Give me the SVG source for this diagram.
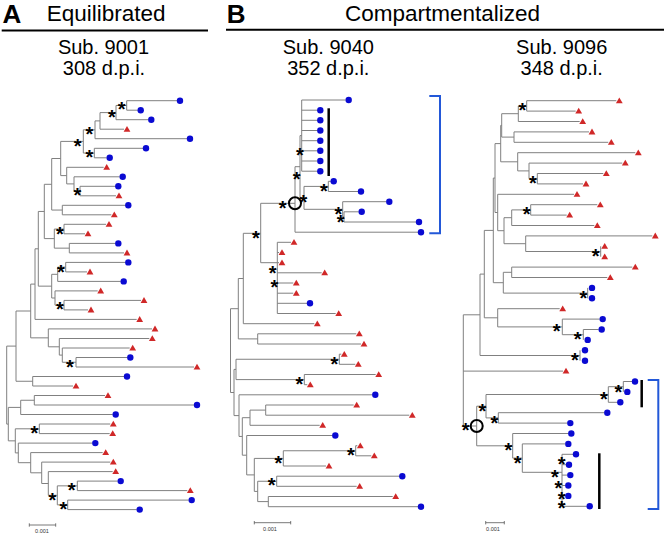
<svg xmlns="http://www.w3.org/2000/svg" width="664" height="534" viewBox="0 0 664 534">
<style>
.br{stroke:#808080;stroke-width:1;fill:none}
.hd{font-family:"Liberation Sans",Arial,sans-serif;fill:#000}
.big{font-size:26px;font-weight:bold}
.ttl{font-size:22.5px}
.sub{font-size:20px;text-anchor:middle}
.s{font-family:"Liberation Sans",Arial,sans-serif;font-size:20px;font-weight:bold;text-anchor:middle;fill:#000}
.sc{font-family:"Liberation Sans",Arial,sans-serif;font-size:5.5px;text-anchor:middle;fill:#333}
.rule{stroke:#000;stroke-width:2}
.bar{stroke:#000;stroke-width:2.5}
.bk{stroke:#2358d8;stroke-width:2;fill:none}
.ring{stroke:#000;stroke-width:2;fill:none}
.scb{stroke:#555;stroke-width:0.8;fill:none}
</style>
<defs>
<circle id="c" r="3.2" fill="#0a0ad2"/>
<path id="t" d="M0-3.3L3.4 2.5H-3.4Z" fill="#d02828"/>
</defs>
<rect width="664" height="534" fill="#fff"/>
<g id="headers">
<text class="hd big" x="2.5" y="22.7">A</text>
<text class="hd ttl" x="46.7" y="20.5">Equilibrated</text>
<line class="rule" x1="1.7" y1="30.5" x2="208" y2="30.5"/>
<text class="hd big" x="226.7" y="22.7">B</text>
<text class="hd ttl" x="345" y="20.5">Compartmentalized</text>
<line class="rule" x1="226" y1="29.7" x2="664" y2="29.7"/>
<text class="hd sub" x="103.5" y="54">Sub. 9001</text>
<text class="hd sub" x="104" y="75">308 d.p.i.</text>
<text class="hd sub" x="328.3" y="54">Sub. 9040</text>
<text class="hd sub" x="328.3" y="75">352 d.p.i.</text>
<text class="hd sub" x="561.7" y="54">Sub. 9096</text>
<text class="hd sub" x="561.7" y="75">348 d.p.i.</text>
</g>
<g id="tree9001">
<path class="br" d="M126.7 100.7V110.2M116 105.45H126.7M116 105.45V119.7M100 112.6H116M100 112.6V129.2M95 120.9H100M95 120.9V138.7M83.3 129.8H95M94.3 148.3V157.8M83.3 153.05H94.3M83.3 129.8V153.05M60.7 141.4H83.3M80 186.3V195.8M74 191.05H80M74 176.8V191.05M66.7 183.9H74M66.7 167.3V183.9M60.7 175.6H66.7M60.7 141.4V175.6M51.7 158.5H60.7M62.3 205.3V214.8M51.7 210.05H62.3M51.7 158.5V210.05M44.3 184.3H51.7M64 224.3V233.8M54.3 229.05H64M69.3 243.4V252.9M54.3 248.15H69.3M54.3 229.05V248.15M44.3 238.6H54.3M44.3 184.3V238.6M38.3 211.45H44.3M65.7 262.4V271.9M57.7 267.15H65.7M57.7 267.15V281.4M51.7 274.3H57.7M64 300.4V309.9M55 305.15H64M55 290.9V305.15M51.7 298H55M51.7 274.3V298M38.3 286.15H51.7M38.3 211.45V286.15M35 248.8H38.3M35 248.8V319.4M30.7 284.1H35M76 357.5V367M62.3 362.25H76M62.3 348V362.25M59.3 355.1H62.3M59.3 338.5V355.1M48.3 346.8H59.3M48.3 328.9V346.8M30.7 337.85H48.3M30.7 284.1V337.85M16 311H30.7M32.7 376.5V386M16 381.25H32.7M16 311V381.25M6.7 346.1H16M34.3 395.5V405M20.7 400.25H34.3M20.7 400.25V414.5M8.3 407.4H20.7M39.3 424V433.6M15.3 428.8H39.3M77.3 481.1V490.6M57.3 485.85H77.3M67.7 500.1V509.6M57.3 504.85H67.7M57.3 485.85V504.85M48.3 495.35H57.3M48.3 471.6V495.35M41.7 483.5H48.3M41.7 462.1V483.5M30.7 472.8H41.7M30.7 452.6V472.8M18.3 462.7H30.7M18.3 443.1V462.7M15.3 452.9H18.3M15.3 428.8V452.9M8.3 440.85H15.3M8.3 407.4V440.85M6.7 424.1H8.3M6.7 346.1V424.1
M126.7 100.7H177M126.7 110.2H137.7M116 119.7H148.3M100 129.2H124M95 138.7H187M94.3 148.3H143M94.3 157.8H106.7M66.7 167.3H103.7M74 176.8H119.7M80 186.3H115.3M80 195.8H116M62.3 205.3H125.3M62.3 214.8H111.3M64 224.3H106M64 233.8H85M69.3 243.4H115.3M69.3 252.9H124M65.7 262.4H125.3M65.7 271.9H87M57.7 281.4H120.7M55 290.9H97.7M64 300.4H141M64 309.9H88M35 319.4H136.7M48.3 328.9H152M59.3 338.5H149.3M62.3 348H129.7M76 357.5H127.3M76 367H194M32.7 376.5H124M32.7 386H73M34.3 395.5H105M34.3 405H194M20.7 414.5H112.7M39.3 424H110.3M39.3 433.6H109.7M18.3 443.1H92.3M30.7 452.6H102.7M41.7 462.1H110.3M48.3 471.6H112.7M77.3 481.1H117.7M77.3 490.6H187.3M67.7 500.1H188.7M67.7 509.6H136.7"/>
<use href="#c" x="180" y="100.7"/><use href="#c" x="140.7" y="110.2"/><use href="#c" x="151.3" y="119.7"/><use href="#t" x="127" y="129.2"/><use href="#c" x="190" y="138.7"/><use href="#c" x="146" y="148.3"/><use href="#c" x="109.7" y="157.8"/><use href="#t" x="106.7" y="167.3"/><use href="#c" x="122.7" y="176.8"/><use href="#c" x="118.3" y="186.3"/><use href="#t" x="119" y="195.8"/><use href="#c" x="128.3" y="205.3"/><use href="#t" x="114.3" y="214.8"/><use href="#t" x="109" y="224.3"/><use href="#t" x="88" y="233.8"/><use href="#c" x="118.3" y="243.4"/><use href="#t" x="127" y="252.9"/><use href="#c" x="128.3" y="262.4"/><use href="#t" x="90" y="271.9"/><use href="#c" x="123.7" y="281.4"/><use href="#t" x="100.7" y="290.9"/><use href="#t" x="144" y="300.4"/><use href="#t" x="91" y="309.9"/><use href="#t" x="139.7" y="319.4"/><use href="#t" x="155" y="328.9"/><use href="#t" x="152.3" y="338.5"/><use href="#t" x="132.7" y="348"/><use href="#c" x="130.3" y="357.5"/><use href="#t" x="197" y="367"/><use href="#c" x="127" y="376.5"/><use href="#t" x="76" y="386"/><use href="#t" x="108" y="395.5"/><use href="#c" x="197" y="405"/><use href="#c" x="115.7" y="414.5"/><use href="#t" x="113.3" y="424"/><use href="#t" x="112.7" y="433.6"/><use href="#c" x="95.3" y="443.1"/><use href="#t" x="105.7" y="452.6"/><use href="#t" x="113.3" y="462.1"/><use href="#t" x="115.7" y="471.6"/><use href="#c" x="120.7" y="481.1"/><use href="#t" x="190.3" y="490.6"/><use href="#c" x="191.7" y="500.1"/><use href="#c" x="139.7" y="509.6"/>
<g transform="translate(0,-1.1)">
<text class="s" x="121.7" y="117.6">*</text><text class="s" x="112" y="125.3">*</text><text class="s" x="89.3" y="142.6">*</text><text class="s" x="77.7" y="154.3">*</text><text class="s" x="89.3" y="165.3">*</text><text class="s" x="77.3" y="203.3">*</text><text class="s" x="60" y="241.9">*</text><text class="s" x="61" y="279.9">*</text><text class="s" x="60" y="317.6">*</text><text class="s" x="70" y="374.9">*</text><text class="s" x="34.3" y="440.9">*</text><text class="s" x="71.7" y="498.6">*</text><text class="s" x="52.3" y="508.6">*</text><text class="s" x="63.3" y="516.9">*</text>
</g>
<path class="scb" d="M29.3 525H55.7M29.3 523.3V526.7M55.7 523.3V526.7"/>
<text class="sc" x="42" y="532.5">0.001</text>
</g>
<g id="tree9040">
<path class="br" d="M301.7 100V171.2M300 135.6H301.7M328.3 181.3V191.5M304 186.4H328.3M344 211.8V222M342.7 216.9H344M342.7 201.7V216.9M304 209.3H342.7M304 186.4V209.3M300 197.85H304M300 135.6V197.85M295 166.7H300M295 166.7V232.2M260.7 203.3H295M260.7 203.3V262.7M243.3 233.3H260.7M277.3 242.3V313.5M260.7 262.7H277.3M243.3 233.3V323.7M238.3 278.5H243.3M257.7 333.8V344M238.3 338.9H257.7M238.3 278.5V338.9M230.5 308.7H238.3M339.3 354.2V364.3M236 359.25H339.3M304.3 374.5V384.7M236 379.6H304.3M236 359.25V379.6M234 369.4H236M265.7 405V415.2M250 410.1H265.7M250 410.1V425.3M242.3 417.7H250M355.7 445.7V455.8M283.3 450.75H355.7M283.3 450.75V466M254.3 458.4H283.3M276.7 476.2V486.3M257.7 481.25H276.7M268.3 496.5V506.7M257.7 501.6H268.3M257.7 481.25V501.6M254.3 491.4H257.7M254.3 458.4V491.4M246.7 474.9H254.3M246.7 435.5V474.9M242.3 455.2H246.7M242.3 417.7V455.2M239 436.45H242.3M239 394.8V436.45M234 415.6H239M234 369.4V415.6M230.5 392.5H234M230.5 308.7V392.5
M301.7 100H345.7M301.7 110.2H317.3M301.7 120.3H317.3M301.7 130.5H317.3M301.7 140.7H317.3M301.7 150.8H317.3M301.7 161H317.3M301.7 171.2H317.3M328.3 181.3H330.7M328.3 191.5H358M342.7 201.7H386.3M344 211.8H358.7M344 222H416M295 232.2H418M277.3 242.3H291M277.3 252.5H279M277.3 262.7H279M277.3 272.8H321.7M277.3 283H293.3M277.3 293.2H293.3M277.3 303.3H307M277.3 313.5H335.7M243.3 323.7H314.3M257.7 333.8H356.3M257.7 344H361M339.3 354.2H341.3M339.3 364.3H355.3M304.3 374.5H375.7M304.3 384.7H307.3M239 394.8H372.3M265.7 405H353.7M265.7 415.2H409.3M250 425.3H319.7M246.7 435.5H332.3M355.7 445.7H357.3M355.7 455.8H371.3M283.3 466H326M276.7 476.2H399.3M276.7 486.3H356.7M268.3 496.5H392.7M268.3 506.7H418"/>
<use href="#c" x="348.7" y="100"/><use href="#c" x="320.3" y="110.2"/><use href="#c" x="320.3" y="120.3"/><use href="#c" x="320.3" y="130.5"/><use href="#c" x="320.3" y="140.7"/><use href="#c" x="320.3" y="150.8"/><use href="#c" x="320.3" y="161"/><use href="#c" x="320.3" y="171.2"/><use href="#c" x="333.7" y="181.3"/><use href="#c" x="361" y="191.5"/><use href="#c" x="389.3" y="201.7"/><use href="#c" x="361.7" y="211.8"/><use href="#c" x="419" y="222"/><use href="#c" x="421" y="232.2"/><use href="#t" x="294" y="242.3"/><use href="#t" x="282" y="252.5"/><use href="#t" x="282" y="262.7"/><use href="#t" x="324.7" y="272.8"/><use href="#t" x="296.3" y="283"/><use href="#t" x="296.3" y="293.2"/><use href="#c" x="310" y="303.3"/><use href="#t" x="338.7" y="313.5"/><use href="#t" x="317.3" y="323.7"/><use href="#t" x="359.3" y="333.8"/><use href="#t" x="364" y="344"/><use href="#t" x="344.3" y="354.2"/><use href="#t" x="358.3" y="364.3"/><use href="#t" x="378.7" y="374.5"/><use href="#t" x="310.3" y="384.7"/><use href="#c" x="375.3" y="394.8"/><use href="#t" x="356.7" y="405"/><use href="#t" x="412.3" y="415.2"/><use href="#t" x="322.7" y="425.3"/><use href="#c" x="335.3" y="435.5"/><use href="#t" x="360.3" y="445.7"/><use href="#t" x="374.3" y="455.8"/><use href="#t" x="329" y="466"/><use href="#c" x="402.3" y="476.2"/><use href="#t" x="359.7" y="486.3"/><use href="#t" x="395.7" y="496.5"/><use href="#c" x="421" y="506.7"/>
<circle class="ring" cx="295" cy="203.3" r="6"/>
<g transform="translate(0,-1.1)">
<text class="s" x="300" y="163.3">*</text><text class="s" x="296.7" y="187.6">*</text><text class="s" x="303.3" y="209.9">*</text><text class="s" x="324" y="199.3">*</text><text class="s" x="338.3" y="221.9">*</text><text class="s" x="340.7" y="229.9">*</text><text class="s" x="282.7" y="215.9">*</text><text class="s" x="256" y="245.9">*</text><text class="s" x="272.7" y="280.9">*</text><text class="s" x="274.3" y="295.3">*</text><text class="s" x="334.3" y="371.9">*</text><text class="s" x="299.3" y="391.9">*</text><text class="s" x="351" y="463.3">*</text><text class="s" x="278.3" y="470.9">*</text><text class="s" x="271.7" y="493.6">*</text>
</g>
<line class="bar" x1="328.7" y1="108.3" x2="328.7" y2="176"/>
<path class="bk" d="M429.3 96H440V233.3H429.3"/>
<path class="scb" d="M254.3 522.7H290.7M254.3 521V524.4M290.7 521V524.4"/>
<text class="sc" x="270" y="530.5">0.001</text>
</g>
<g id="tree9096">
<path class="br" d="M526.7 100.7V111.1M518.3 105.9H526.7M518.3 105.9V121.5M501.7 113.7H518.3M514 131.9V142.3M501.7 137.1H514M501.7 113.7V137.1M500.7 125.4H501.7M537.3 173.5V183.9M529 178.7H537.3M529 163.1V178.7M517.7 170.9H529M517.7 152.7V170.9M500.7 161.8H517.7M500.7 125.4V161.8M495 143.6H500.7M530.7 204.7V215.1M511.7 209.9H530.7M511.7 209.9V225.5M504 217.7H511.7M600.7 246.3V256.7M525.7 251.5H600.7M525.7 235.9V251.5M504 243.7H525.7M504 217.7V243.7M497.7 230.7H504M497.7 194.3V230.7M495 212.5H497.7M495 143.6V212.5M493.3 178.05H495M511.7 267.1V277.5M503.3 272.3H511.7M587.7 287.9V298.3M503.3 293.1H587.7M503.3 272.3V293.1M493.3 282.7H503.3M493.3 178.05V282.7M484.3 230.4H493.3M583.3 329.5V339.9M562.3 334.7H583.3M562.3 319.1V334.7M497.7 326.9H562.3M497.7 308.7V326.9M484.3 317.8H497.7M484.3 230.4V317.8M480 274.1H484.3M580 350.3V360.7M480 355.5H580M480 274.1V355.5M463.3 314.8H480M463.3 314.8V426M463.3 426H476.7M623.3 381.5V391.9M608.3 386.7H623.3M608.3 386.7V402.3M486 394.5H608.3M498.3 412.7V423.1M486 417.9H498.3M486 394.5V417.9M476.7 406.2H486M562 454.3V506.3M522.3 472.3H562M522.3 443.9V472.3M512.7 458.1H522.3M512.7 433.5V458.1M476.7 445.8H512.7M476.7 406.2V445.8
M526.7 100.7H616.3M526.7 111.1H575.7M518.3 121.5H579.7M514 131.9H589M514 142.3H608.3M517.7 152.7H635.3M529 163.1H622.3M537.3 173.5H603.3M537.3 183.9H583M497.7 194.3H574M530.7 204.7H597.3M530.7 215.1H566.7M511.7 225.5H594.3M525.7 235.9H652.3M511.7 267.1H632.3M511.7 277.5H607.3M497.7 308.7H559.7M562.3 319.1H599.7M583.3 329.5H598.7M463.3 371.1H563M623.3 381.5H632M608.3 402.3H617.3M498.3 412.7H604.3M498.3 423.1H567.3M512.7 433.5H568.3M522.3 443.9H565.3M562 454.3H573M562 464.7H566M562 475.1H567.3M562 485.5H565.3M562 495.9H565.3M562 506.3H586.7"/>
<use href="#t" x="619.3" y="100.7"/><use href="#t" x="578.7" y="111.1"/><use href="#t" x="582.7" y="121.5"/><use href="#t" x="592" y="131.9"/><use href="#t" x="611.3" y="142.3"/><use href="#t" x="638.3" y="152.7"/><use href="#t" x="625.3" y="163.1"/><use href="#t" x="606.3" y="173.5"/><use href="#t" x="586" y="183.9"/><use href="#t" x="577" y="194.3"/><use href="#t" x="600.3" y="204.7"/><use href="#t" x="569.7" y="215.1"/><use href="#t" x="597.3" y="225.5"/><use href="#t" x="655.3" y="235.9"/><use href="#t" x="604.7" y="246.3"/><use href="#t" x="604.7" y="256.7"/><use href="#t" x="635.3" y="267.1"/><use href="#t" x="610.3" y="277.5"/><use href="#c" x="592" y="287.9"/><use href="#c" x="592" y="298.3"/><use href="#t" x="562.7" y="308.7"/><use href="#c" x="602.7" y="319.1"/><use href="#c" x="601.7" y="329.5"/><use href="#c" x="587.7" y="339.9"/><use href="#c" x="585" y="350.3"/><use href="#c" x="585" y="360.7"/><use href="#t" x="566" y="371.1"/><use href="#c" x="635" y="381.5"/><use href="#c" x="627.3" y="391.9"/><use href="#c" x="620.3" y="402.3"/><use href="#c" x="607.3" y="412.7"/><use href="#c" x="570.3" y="423.1"/><use href="#c" x="571.3" y="433.5"/><use href="#c" x="568.3" y="443.9"/><use href="#c" x="576" y="454.3"/><use href="#c" x="569" y="464.7"/><use href="#c" x="570.3" y="475.1"/><use href="#c" x="568.3" y="485.5"/><use href="#c" x="568.3" y="495.9"/><use href="#c" x="589.7" y="506.3"/>
<circle class="ring" cx="476.7" cy="426" r="6"/>
<g transform="translate(0,-1.1)">
<text class="s" x="522.3" y="118.6">*</text><text class="s" x="533" y="191.6">*</text><text class="s" x="526.7" y="222.6">*</text><text class="s" x="595.7" y="264.6">*</text><text class="s" x="583.3" y="305.9">*</text><text class="s" x="556.7" y="339.3">*</text><text class="s" x="577.7" y="346.9">*</text><text class="s" x="575" y="368.3">*</text><text class="s" x="465.7" y="438.6">*</text><text class="s" x="482.3" y="419.3">*</text><text class="s" x="494.3" y="430.9">*</text><text class="s" x="604" y="407.6">*</text><text class="s" x="618.3" y="399.9">*</text><text class="s" x="508.3" y="458.3">*</text><text class="s" x="517.7" y="470.9">*</text><text class="s" x="561.7" y="472.6">*</text><text class="s" x="555" y="485.3">*</text><text class="s" x="558.3" y="495.9">*</text><text class="s" x="561.7" y="507.6">*</text><text class="s" x="561.7" y="515.9">*</text>
</g>
<line class="bar" x1="641.7" y1="380" x2="641.7" y2="407.3"/>
<line class="bar" x1="599.3" y1="453.3" x2="599.3" y2="509"/>
<path class="bk" d="M647.7 380H658.3V509H647.7"/>
<path class="scb" d="M485.7 522.7H504.3M485.7 521V524.4M504.3 521V524.4"/>
<text class="sc" x="493" y="530.5">0.001</text>
</g>
</svg>
